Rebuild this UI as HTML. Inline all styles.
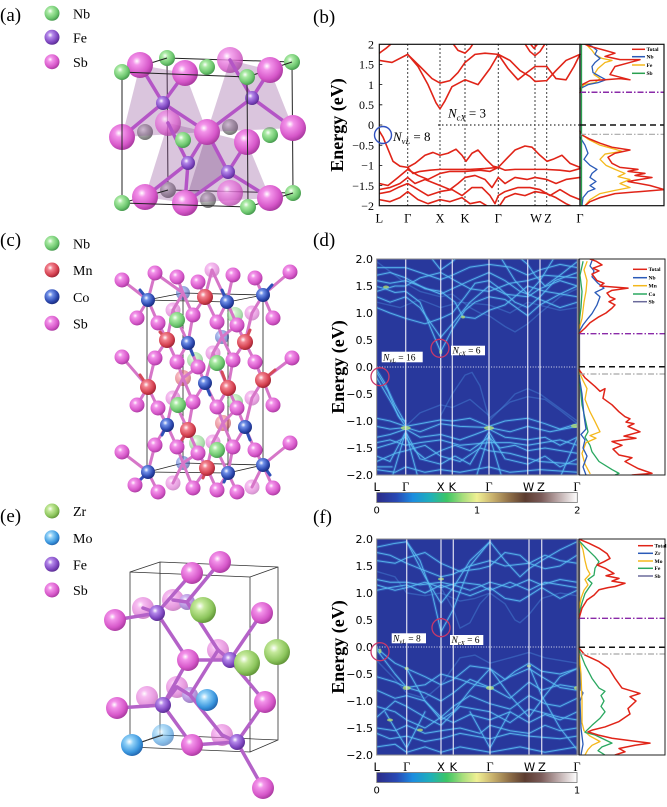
<!DOCTYPE html>
<html><head><meta charset="utf-8">
<style>
html,body{margin:0;padding:0;background:#fff;}
svg{display:block;}
.pl{fill:none;vector-effect:non-scaling-stroke;stroke-linejoin:round;stroke-linecap:round;}
.serif{font-family:"Liberation Serif",serif;}
.sans{font-family:"DejaVu Sans","Liberation Sans",sans-serif;}
</style></head>
<body>
<svg width="667" height="807" viewBox="0 0 667 807" xmlns="http://www.w3.org/2000/svg">
<defs>
<radialGradient id="gSb" cx="0.38" cy="0.35" r="0.7"><stop offset="0" stop-color="#fff"/><stop offset="0.22" stop-color="#f393ea"/><stop offset="0.7" stop-color="#d657c9"/><stop offset="1" stop-color="#a3369a"/></radialGradient>
<radialGradient id="gNb" cx="0.38" cy="0.35" r="0.7"><stop offset="0" stop-color="#fff"/><stop offset="0.25" stop-color="#aaeaa4"/><stop offset="0.7" stop-color="#6cc66e"/><stop offset="1" stop-color="#3f9048"/></radialGradient>
<radialGradient id="gFe" cx="0.38" cy="0.35" r="0.7"><stop offset="0" stop-color="#fff"/><stop offset="0.25" stop-color="#b488ea"/><stop offset="0.7" stop-color="#7e46c0"/><stop offset="1" stop-color="#542a8a"/></radialGradient>
<radialGradient id="gMn" cx="0.38" cy="0.35" r="0.7"><stop offset="0" stop-color="#fff"/><stop offset="0.25" stop-color="#f2818e"/><stop offset="0.7" stop-color="#d4404f"/><stop offset="1" stop-color="#931f2d"/></radialGradient>
<radialGradient id="gCo" cx="0.38" cy="0.35" r="0.7"><stop offset="0" stop-color="#fff"/><stop offset="0.25" stop-color="#6f8fe8"/><stop offset="0.7" stop-color="#2b47ae"/><stop offset="1" stop-color="#172874"/></radialGradient>
<radialGradient id="gZr" cx="0.38" cy="0.35" r="0.7"><stop offset="0" stop-color="#fff"/><stop offset="0.25" stop-color="#c4e99a"/><stop offset="0.7" stop-color="#8cc55c"/><stop offset="1" stop-color="#5a8e32"/></radialGradient>
<radialGradient id="gMo" cx="0.38" cy="0.35" r="0.7"><stop offset="0" stop-color="#fff"/><stop offset="0.25" stop-color="#92d2f8"/><stop offset="0.7" stop-color="#3a96de"/><stop offset="1" stop-color="#1f5ea6"/></radialGradient>
<radialGradient id="gGr" cx="0.38" cy="0.35" r="0.7"><stop offset="0" stop-color="#eee"/><stop offset="0.4" stop-color="#b4b4b4"/><stop offset="1" stop-color="#6e6e6e"/></radialGradient>
<linearGradient id="cbar" x1="0" x2="1" y1="0" y2="0">
<stop offset="0" stop-color="#2c2b88"/><stop offset="0.1" stop-color="#2848b4"/><stop offset="0.18" stop-color="#1b8de0"/><stop offset="0.27" stop-color="#1fb0b8"/><stop offset="0.35" stop-color="#3cc664"/><stop offset="0.43" stop-color="#a8de7c"/><stop offset="0.5" stop-color="#f0f094"/><stop offset="0.58" stop-color="#c8b06c"/><stop offset="0.66" stop-color="#907048"/><stop offset="0.74" stop-color="#5c3c30"/><stop offset="0.82" stop-color="#7a5a58"/><stop offset="0.9" stop-color="#b8a4a4"/><stop offset="1" stop-color="#ffffff"/>
</linearGradient>
<clipPath id="clipB"><rect x="379.3" y="44.3" width="284.7" height="161.4"/></clipPath>
<clipPath id="clipD"><rect x="376.7" y="259" width="200.6" height="216"/></clipPath>
<clipPath id="clipDd"><rect x="578" y="259" width="87" height="216"/></clipPath>
<clipPath id="clipF"><rect x="376.7" y="539" width="200.3" height="216"/></clipPath>
<clipPath id="clipFd"><rect x="578" y="539" width="87" height="216"/></clipPath>

<g id="bandsD">
<polyline class="pl" points="376.7,1.84 405.7,1.84 420,1.75 440.7,1.62 452.3,1.7 470,1.85 489,1.9 510,1.85 527.7,1.7 540,1.8 560,1.9 577.3,1.84"/>
<polyline class="pl" points="376.7,1.49 385,1.45 395,1.38 405.7,1.4 420,1.2 430,0.75 440.7,0.28 452.3,0.7 465,1.05 475,1.2 489,1.3 505,1.25 520,1.05 527.7,0.95 540,1.15 560,1.35 577.3,1.5"/>
<polyline class="pl" points="376.7,1.3 390,1.2 405.7,1.3 420,1.1 440.7,0.55 452.3,0.8 470,1.2 489,1.5 505,1.35 527.7,1.3 540,1.45 560,1.6 577.3,1.5"/>
<polyline class="pl" points="376.7,1.6 390,1.55 405.7,1.6 420,1.5 440.7,1.35 452.3,1.45 470,1.6 489,1.75 505,1.6 520,1.4 527.7,1.35 540,1.25 560,1.1 577.3,1.2"/>
<polyline class="pl" points="376.7,1.1 390,1.0 405.7,0.9 425,0.8 440.7,0.9 452.3,1.0 465,1.3 475,1.55 489,1.6 500,1.45 515,1.2 527.7,1.1 540,1.3 555,1.6 577.3,1.75"/>
<polyline class="pl" points="376.7,1.7 390,1.75 405.7,1.65 425,1.45 440.7,1.4 455,1.2 463,0.93 475,0.9 489,1.05 505,1.15 527.7,1.5 545,1.4 577.3,1.3"/>
<polyline class="pl" points="376.7,1.4 395,1.5 405.7,1.5 420,1.65 440.7,1.75 455,1.6 470,1.45 489,1.4 510,1.55 527.7,1.6 545,1.7 577.3,1.65"/>
<polyline class="pl" points="430,2.05 440.7,1.8 452.3,1.95 458,2.05"/>
<polyline class="pl" points="500,2.05 515,1.6 527.7,1.35 540,1.6 555,2.05"/>
<polyline class="pl" points="518,2.05 527.7,1.9 535,1.7 545,1.5 560,1.7 577.3,1.95"/>
<polyline class="pl" points="376.7,-0.05 385,-0.3 395,-0.7 405.7,-1.05"/>
<polyline class="pl" points="376.7,-0.1 388,-0.45 398,-0.9 405.7,-1.1"/>
<polyline class="pl" points="376.7,-0.2 390,-0.62 400,-0.95 405.7,-1.0"/>
<polyline class="pl" points="376.7,-0.95 390,-1.0 405.7,-1.1 420,-1.05 440.7,-0.98 452.3,-1.0 470,-0.95 489,-1.1 505,-1.0 527.7,-0.95 545,-1.05 560,-1.15 577.3,-1.05"/>
<polyline class="pl" points="376.7,-1.1 390,-1.15 405.7,-1.12 420,-1.2 440.7,-1.05 460,-1.1 489,-1.12 510,-1.2 527.7,-1.1 550,-1.2 577.3,-1.1"/>
<polyline class="pl" points="376.7,-1.3 390,-1.25 405.7,-1.15 420,-1.3 440.7,-1.25 460,-1.35 475,-1.25 489,-1.15 505,-1.3 527.7,-1.35 545,-1.3 560,-1.45 577.3,-1.3"/>
<polyline class="pl" points="376.7,-1.4 390,-1.35 405.7,-1.45 420,-1.4 440.7,-1.35 460,-1.45 489,-1.4 510,-1.4 527.7,-1.45 560,-1.35 577.3,-1.45"/>
<polyline class="pl" points="376.7,-1.5 395,-1.4 405.7,-1.3 415,-1.55 425,-1.7 440.7,-1.55 455,-1.45 470,-1.55 489,-1.3 500,-1.5 515,-1.45 527.7,-1.55 545,-1.5 577.3,-1.6"/>
<polyline class="pl" points="376.7,-1.75 395,-1.6 405.7,-1.55 425,-1.45 440.7,-1.65 460,-1.75 480,-1.5 489,-1.55 510,-1.6 540,-1.75 577.3,-1.8"/>
<polyline class="pl" points="376.7,-1.65 390,-1.75 405.7,-1.2 420,-1.7 440.7,-1.8 455,-1.65 470,-1.8 489,-1.2 505,-1.7 527.7,-1.8 545,-1.65 560,-1.85 577.3,-1.7"/>
<polyline class="pl" points="376.7,-1.9 395,-1.95 405.7,-1.85 425,-1.95 440.7,-1.9 460,-1.95 489,-1.85 510,-1.95 540,-1.9 577.3,-1.95"/>
<polyline class="pl" points="376.7,-1.85 392,-1.85"/>
<polyline class="pl" points="392,-2.05 405.7,-1.2 418,-2.05"/>
<polyline class="pl" points="476,-2.05 489,-1.25 502,-2.05"/>
<polyline class="pl" points="560,-2.05 577.3,-1.3"/>
</g>
<g id="bandsDf">
<polyline class="pl" points="440.7,-0.9 452.3,-0.5 465,-0.15 472,-0.1 480,-0.35 489,-0.95"/>
<polyline class="pl" points="489,-1.0 505,-0.7 515,-0.5 527.7,-0.4 540,-0.5 555,-0.7 577.3,-1.0"/>
<polyline class="pl" points="489,-0.95 510,-0.65 527.7,-0.55 545,-0.6 560,-0.8 577.3,-1.05"/>
<polyline class="pl" points="376.7,1.95 395,1.7 405.7,1.55 420,1.4 440.7,1.3 452.3,1.35 470,1.1 480,1.0 489,0.95 505,0.75 515,0.65 527.7,0.8 540,1.0 560,1.3 577.3,1.45"/>
<polyline class="pl" points="405.7,-1.1 420,-0.85 440.7,-0.7 452.3,-0.75 470,-0.6 489,-0.9"/>
<polyline class="pl" points="376.7,1.2 400,1.1 420,1.25 440.7,1.1 460,1.2 489,1.15 510,1.0 527.7,1.2 560,1.05 577.3,1.1"/>
</g>

<g id="bandsF">
<polyline class="pl" points="376.7,1.85 395,1.92 406.7,1.95 420,1.6 432,1.0 441,0.28 453.3,0.7 470,1.5 490,1.95 505,1.6 520,1.3 529,1.45 541.7,1.6 560,1.8 577,1.95"/>
<polyline class="pl" points="406.7,1.95 425,1.3 441,0.81 453.3,1.1 470,1.6 490,1.95"/>
<polyline class="pl" points="376.7,1.75 390,1.7 406.7,1.55 420,1.45 441,1.3 453.3,1.35 470,1.5 490,1.6 505,1.5 529,1.55 545,1.45 560,1.5 577,1.7"/>
<polyline class="pl" points="376.7,1.25 390,1.2 406.7,1.2 420,1.15 441,1.2 453.3,1.15 470,1.05 490,1.2 510,1.1 529,1.25 541.7,1.15 560,1.25 577,1.2"/>
<polyline class="pl" points="376.7,1.05 390,1.1 406.7,1.15 425,1.0 441,1.15 453.3,1.05 470,0.95 490,1.1 505,0.9 520,0.85 529,0.95 541.7,1.1 560,0.9 577,1.05"/>
<polyline class="pl" points="376.7,1.15 395,1.05 406.7,1.1 425,1.2 441,1.1 460,1.2 480,1.15 490,1.05 510,1.2 529,1.05 545,1.2 577,1.1"/>
<polyline class="pl" points="376.7,1.6 395,1.55 406.7,1.65 425,1.75 441,1.55 460,1.4 480,1.45 490,1.5 505,1.75 520,1.7 529,1.55 545,1.7 560,1.6 577,1.55"/>
<polyline class="pl" points="376.7,-0.02 385,-0.15 395,-0.3 406.7,-0.4 425,-0.55 441,-0.7 453.3,-0.6 470,-0.35 490,-0.4 505,-0.6 515,-0.45 529,-0.3 541.7,-0.45 560,-0.5 577,-0.4"/>
<polyline class="pl" points="376.7,-0.05 395,-0.5 406.7,-0.75 425,-0.85 441,-1.0 453.3,-0.85 470,-0.6 490,-0.75 510,-0.95 529,-0.65 541.7,-0.8 560,-0.7 577,-0.75"/>
<polyline class="pl" points="376.7,-0.55 395,-0.65 406.7,-0.75 425,-0.7 441,-0.5 460,-0.6 475,-0.7 490,-0.76 510,-0.55 529,-0.4 541.7,-0.55 560,-0.75 577,-0.8"/>
<polyline class="pl" points="376.7,-0.8 395,-0.95 406.7,-0.9 425,-1.0 441,-1.3 453.3,-1.1 470,-0.9 490,-1.05 510,-1.15 529,-0.9 545,-1.05 560,-1.1 577,-0.95"/>
<polyline class="pl" points="376.7,-1.1 395,-1.2 406.7,-1.35 425,-1.5 441,-1.3 453.3,-1.4 470,-1.25 490,-1.35 510,-1.2 529,-1.4 545,-1.25 560,-1.35 577,-1.2"/>
<polyline class="pl" points="376.7,-1.5 395,-1.55 406.7,-1.45 425,-1.6 441,-1.55 460,-1.5 480,-1.6 490,-1.45 510,-1.55 529,-1.6 545,-1.45 560,-1.55 577,-1.5"/>
<polyline class="pl" points="376.7,-1.6 390,-1.7 406.7,-1.65 425,-1.75 441,-1.7 460,-1.6 490,-1.7 510,-1.6 529,-1.65 560,-1.7 577,-1.65"/>
<polyline class="pl" points="385,-1.2 406.7,-1.87 425,-1.2"/>
<polyline class="pl" points="470,-1.2 490,-1.87 510,-1.2"/>
<polyline class="pl" points="376.7,-1.85 395,-1.8 406.7,-1.95 425,-1.85 441,-1.95 460,-1.85 490,-1.95 520,-1.85 545,-1.95 577,-1.85"/>
<polyline class="pl" points="406.7,-0.4 425,-1.0 441,-1.35 453.3,-1.2 470,-0.8 490,-0.4 510,-0.9 529,-1.3 545,-0.9 560,-0.55 577,-0.4"/>
<polyline class="pl" points="529,-0.35 541.7,-0.9 560,-1.5 577,-1.9"/>
<polyline class="pl" points="376.7,-1.3 395,-1.0 406.7,-1.1 425,-1.3 441,-1.45 460,-1.1 490,-1.2 510,-1.4 529,-1.15 560,-1.3 577,-1.35"/>
</g>
<g id="bandsFf">
<polyline class="pl" points="441,1.1 453.3,0.7 460,0.35 470,0.45 480,0.8 490,1.0"/>
<polyline class="pl" points="376.7,1.4 395,1.3 406.7,1.0 425,0.95 441,1.0 460,0.85 475,0.9 490,1.0 505,0.8 515,0.5 520,0.45 529,0.6 541.7,0.9 560,1.0 577,0.95"/>
<polyline class="pl" points="376.7,-0.25 395,-0.6 406.7,-0.85 425,-0.95 441,-0.7 460,-0.2 475,-0.15 490,-0.3 510,-0.2 529,-0.1 545,-0.2 577,-0.3"/>
</g>
</defs>

<!-- ================= Panel (a) ================= -->
<text class="serif" x="0" y="21" font-size="19">(a)</text>
<circle cx="52" cy="13.3" r="7.5" fill="url(#gNb)"/>
<circle cx="52" cy="37.3" r="7.5" fill="url(#gFe)"/>
<circle cx="52" cy="61.7" r="7.5" fill="url(#gSb)"/>
<text class="serif" x="73" y="18.5" font-size="14">Nb</text>
<text class="serif" x="73" y="42.5" font-size="14">Fe</text>
<text class="serif" x="73" y="67" font-size="14">Sb</text>

<g stroke="#222" stroke-width="1" fill="none">
<polygon points="167,58 292,62 293,193 168,190"/>
</g>
<g fill="url(#gGr)">
<circle cx="145" cy="132" r="8"/><circle cx="230" cy="127" r="8"/><circle cx="168" cy="190" r="8"/><circle cx="208" cy="200" r="8"/>
</g>
<circle cx="167" cy="58" r="8" fill="url(#gNb)"/>
<circle cx="207" cy="67" r="8" fill="url(#gNb)"/>
<circle cx="292" cy="62" r="8" fill="url(#gNb)"/>
<circle cx="293" cy="193" r="8" fill="url(#gNb)"/>
<circle cx="270" cy="135" r="8" fill="url(#gNb)"/>
<circle cx="230" cy="60" r="13" fill="url(#gSb)" opacity="0.8"/>
<g fill="#8e4e98" fill-opacity="0.33">
<polygon points="140,65 185,73 207,132 122,137"/>
<polygon points="230,60 270,70 293,128 207,132"/>
<polygon points="168,123 207,132 185,203 145,197"/>
<polygon points="207,132 247,142 270,198 185,203"/>
</g>
<polygon points="207,132 228,172 185,203" fill="#6e3a7a" fill-opacity="0.3"/>
<circle cx="168" cy="123" r="13" fill="url(#gSb)" opacity="0.75"/>
<circle cx="230" cy="193" r="13" fill="url(#gSb)" opacity="0.75"/>
<g stroke="#b455c6" stroke-width="3.5" stroke-linecap="round">
<path d="M163,103 L140,65 M163,103 L185,73 M163,103 L122,137 M163,103 L207,132"/>
<path d="M252,98 L230,60 M252,98 L270,70 M252,98 L207,132 M252,98 L293,128"/>
<path d="M188,163 L207,132 M188,163 L168,123 M188,163 L145,197 M188,163 L185,203"/>
<path d="M228,172 L207,132 M228,172 L247,142 M228,172 L270,198 M228,172 L185,203"/>
</g>
<g stroke="#222" stroke-width="1" fill="none">
<path d="M122,72 L167,58 M247,77 L292,62 M248,207 L293,193 M122,203 L168,190"/>
</g>
<g fill="url(#gFe)">
<circle cx="163" cy="103" r="7"/><circle cx="252" cy="98" r="7"/><circle cx="188" cy="163" r="7"/><circle cx="228" cy="172" r="7"/>
</g>
<circle cx="183" cy="140" r="8" fill="url(#gNb)"/>
<g fill="url(#gSb)">
<circle cx="140" cy="65" r="13"/><circle cx="185" cy="73" r="13"/><circle cx="270" cy="70" r="13"/>
<circle cx="122" cy="137" r="13"/><circle cx="207" cy="132" r="13"/><circle cx="293" cy="128" r="13"/><circle cx="247" cy="142" r="13"/>
<circle cx="145" cy="197" r="13"/><circle cx="185" cy="203" r="13"/><circle cx="270" cy="198" r="13"/>
</g>
<g stroke="#222" stroke-width="1" fill="none">
<polygon points="122,72 247,77 248,207 122,203"/>
</g>
<circle cx="122" cy="72" r="8" fill="url(#gNb)"/>
<circle cx="247" cy="77" r="8" fill="url(#gNb)"/>
<circle cx="122" cy="203" r="8" fill="url(#gNb)"/>
<circle cx="248" cy="207" r="8" fill="url(#gNb)"/>

<!-- ================= Panel (b) ================= -->
<text class="serif" x="313" y="23" font-size="19">(b)</text>
<text class="serif" font-size="18" font-weight="bold" text-anchor="middle" transform="translate(343,125) rotate(-90)">Energy (eV)</text>
<g class="serif" font-size="12" text-anchor="end">
<text x="374" y="48.5">2</text><text x="374" y="68.5">1.5</text><text x="374" y="88.8">1</text><text x="374" y="109">0.5</text>
<text x="374" y="129.2">0</text><text x="374" y="149.4">−0.5</text><text x="374" y="169.6">−1</text><text x="374" y="189.8">−1.5</text><text x="374" y="210">−2</text>
</g>
<g class="serif" font-size="12.5" text-anchor="middle">
<text x="379.3" y="222.5">L</text><text x="407.7" y="222.5">Γ</text><text x="440" y="222.5">X</text><text x="465" y="222.5">K</text>
<text x="498.3" y="222.5">Γ</text><text x="536" y="222.5">W</text><text x="548" y="222.5">Z</text><text x="580" y="222.5">Γ</text>
</g>
<g stroke="#000" stroke-width="1" stroke-dasharray="1.5,2.5">
<path d="M407.7,44.3 V205.7 M440,44.3 V205.7 M465,44.3 V205.7 M498.3,44.3 V205.7 M535,44.3 V205.7 M546.7,44.3 V205.7 M438,125 H580"/>
</g>
<g clip-path="url(#clipB)">
<g transform="translate(0,125) scale(1,-40.35)" stroke="#e02418" stroke-width="1.6">
<polyline class="pl" points="379.3,1.6 392,1.55 407.7,1.75 418,1.45 428,1.0 436,0.55 440,0.4 445,0.6 452,0.95 465,1.12 478,1.0 490,1.4 498.3,1.75 508,1.4 518,1.12 527,1.3 535,1.45 546.7,1.45 556,1.15 566,1.12 574,1.45 580,1.75"/>
<polyline class="pl" points="379.3,1.78 386,1.9 393,2.05"/>
<polyline class="pl" points="407.7,1.75 420,1.45 432,1.15 440,1.04 450,1.1 458,1.3 465,1.55 475,1.75 485,1.78 498.3,1.75 510,1.6 520,1.35 530,1.2 535,1.08 546.7,1.1 556,1.35 566,1.6 580,1.75"/>
<polyline class="pl" points="452,2.05 458,1.85 465,1.78 470,1.9 474,2.05"/>
<polyline class="pl" points="524,2.05 530,1.82 535,1.72 540,1.82 546,2.05"/>
<polyline class="pl" points="529,2.05 534,1.9 539,2.05"/>
<polyline class="pl" points="379.3,-0.15 383,-0.3 388,-0.6 393,-0.9 400,-1.02 407.7,-1.05 415,-0.95 425,-0.75 433,-0.68 440,-0.75 448,-0.7 456,-0.6 462,-0.75 466,-0.9 472,-0.7 478,-0.62 486,-0.85 493,-1.02 498.3,-1.05 506,-0.85 515,-0.62 525,-0.52 532,-0.55 540,-0.75 547,-0.9 553,-0.85 562,-0.75 570,-0.95 580,-1.05"/>
<polyline class="pl" points="407.7,-1.05 413,-1.2 420,-1.15 430,-1.12 440,-1.1 455,-1.1 470,-1.1 485,-1.08 498.3,-1.05 505,-1.12 515,-1.1 530,-1.1 545,-1.1 560,-1.12 570,-1.15 580,-1.08"/>
<polyline class="pl" points="379.3,-1.45 388,-1.5 398,-1.3 407.7,-1.1 418,-1.25 428,-1.35 440,-1.2 450,-1.15 465,-1.15 480,-1.12 490,-1.15 498.3,-1.05"/>
<polyline class="pl" points="379.3,-1.6 390,-1.55 400,-1.45 407.7,-1.3 415,-1.45 425,-1.35 440,-1.5 450,-1.6 458,-1.45 465,-1.3 475,-1.25 485,-1.35 492,-1.55 498.3,-1.3 505,-1.45 515,-1.3 527,-1.35 535,-1.3 546.7,-1.35 556,-1.45 566,-1.35 580,-1.3"/>
<polyline class="pl" points="379.3,-1.7 390,-1.65 398,-1.55 407.7,-1.45 418,-1.6 428,-1.75 440,-1.65 452,-1.6 462,-1.75 472,-1.55 482,-1.55 490,-1.75 495,-1.95 498.3,-1.75 505,-1.65 518,-1.55 530,-1.55 540,-1.6 550,-1.75 560,-1.6 570,-1.75 580,-1.85"/>
<polyline class="pl" points="379.3,-1.85 390,-1.9 400,-1.8 407.7,-1.65 418,-1.85 428,-1.95 440,-1.85 450,-1.9 462,-1.8 470,-1.95 480,-1.9 490,-2.05"/>
<polyline class="pl" points="498.3,-2.05 505,-1.8 515,-1.7 525,-1.75 535,-1.65 546.7,-1.7 556,-1.8 566,-1.95 575,-2.05"/>
</g>
<g transform="translate(0,125) scale(1,-40.35)" stroke-width="1.3">
<polyline class="pl" stroke="#f4b81c" points="580,0.85 584,1.0 595,1.05 600,1.15 594,1.25 598,1.4 605,1.55 612,1.6 602,1.65 595,1.75 592,1.85 586,2.0"/>
<polyline class="pl" stroke="#f4b81c" points="580,-0.2 588,-0.35 600,-0.5 615,-0.6 622,-0.65 605,-0.72 600,-0.85 606,-1.0 615,-1.1 625,-1.2 618,-1.28 630,-1.35 620,-1.45 630,-1.55 615,-1.62 600,-1.7 590,-1.85 585,-2.0"/>
<polyline class="pl" stroke="#2a5ab8" points="580,0.9 588,1.0 598,1.05 606,1.12 600,1.2 593,1.3 592,1.45 595,1.55 600,1.65 595,1.75 597,1.85 592,1.95 588,2.0"/>
<polyline class="pl" stroke="#2a5ab8" points="580,-0.3 585,-0.5 588,-0.7 584,-0.85 590,-1.0 597,-1.1 592,-1.2 590,-1.3 596,-1.4 590,-1.5 595,-1.58 588,-1.65 583,-1.8 582,-2.0"/>
<polyline class="pl" stroke="#e02418" stroke-width="1.5" points="580,0.8 582,1.0 590,1.1 605,1.12 620,1.15 630,1.12 610,1.25 615,1.45 630,1.55 640,1.62 620,1.62 605,1.7 615,1.78 605,1.85 590,1.95 585,2.0"/>
<polyline class="pl" stroke="#e02418" stroke-width="1.5" points="580,-0.15 582,-0.25 590,-0.35 600,-0.45 612,-0.55 625,-0.6 630,-0.62 615,-0.7 608,-0.8 612,-0.95 620,-1.05 638,-1.1 628,-1.15 645,-1.2 635,-1.25 652,-1.3 640,-1.35 628,-1.4 650,-1.5 664,-1.6 640,-1.65 615,-1.7 600,-1.8 590,-1.9 585,-2.0"/>
<polyline class="pl" stroke="#2aa050" points="581.5,-2.05 581.5,2.05"/>
</g>
</g>
<path d="M580,92.3 H664" stroke="#8a2aa8" stroke-width="1.5" stroke-dasharray="6,2,1.5,2"/>
<path d="M580,125 H664" stroke="#111" stroke-width="1.5" stroke-dasharray="6,4"/>
<path d="M580,134.3 H664" stroke="#a8a8a8" stroke-width="1.2" stroke-dasharray="6,2,1.5,2"/>
<g stroke="#000" stroke-width="0.8">
<path d="M379.3,64.5 h3 M379.3,84.6 h3 M379.3,104.8 h3 M379.3,125 h3 M379.3,145.2 h3 M379.3,165.4 h3 M379.3,185.5 h3"/>
</g>
<rect x="379.3" y="44.3" width="200.7" height="161.4" fill="none" stroke="#111" stroke-width="1.2"/>
<rect x="580" y="44.3" width="84" height="161.4" fill="none" stroke="#111" stroke-width="1.2"/>
<circle cx="383" cy="135" r="8.5" fill="none" stroke="#3050c0" stroke-width="1.4"/>
<text class="serif" x="393" y="141" font-size="13"><tspan font-style="italic">N</tspan><tspan font-style="italic" font-size="8.5" dy="3">vL</tspan><tspan dy="-3"> = 8</tspan></text>
<text class="serif" x="448" y="117.5" font-size="13"><tspan font-style="italic">N</tspan><tspan font-style="italic" font-size="8.5" dy="3">cX</tspan><tspan dy="-3"> = 3</tspan></text>
<g class="serif" font-size="5.5" font-weight="bold">
<path d="M632,49.3 h13" stroke="#e02418" stroke-width="1.5"/><text x="646.5" y="51.2">Total</text>
<path d="M632,56.7 h13" stroke="#2a5ab8" stroke-width="1.5"/><text x="646.5" y="58.6">Nb</text>
<path d="M632,65 h13" stroke="#f4b81c" stroke-width="1.5"/><text x="646.5" y="66.9">Fe</text>
<path d="M632,73.3 h13" stroke="#2aa050" stroke-width="1.5"/><text x="646.5" y="75.2">Sb</text>
</g>

<!-- ================= Panel (c) ================= -->
<text class="serif" x="0" y="246" font-size="19">(c)</text>
<circle cx="52" cy="243.3" r="7.5" fill="url(#gNb)"/>
<circle cx="52" cy="270" r="7.5" fill="url(#gMn)"/>
<circle cx="52" cy="296.7" r="7.5" fill="url(#gCo)"/>
<circle cx="52" cy="323.3" r="7.5" fill="url(#gSb)"/>
<text class="serif" x="73" y="248.5" font-size="14">Nb</text>
<text class="serif" x="73" y="275.2" font-size="14">Mn</text>
<text class="serif" x="73" y="301.9" font-size="14">Co</text>
<text class="serif" x="73" y="328.5" font-size="14">Sb</text>

<g stroke="#222" stroke-width="0.8" fill="none">
<path d="M147,300 L183,293 L263,295 L228,302 Z M148,472 L183,463 L263,465 L228,473 Z M147,300 V472 M228,302 V473 M183,293 V463 M263,295 V465"/>
</g>
<g opacity="0.55">
<circle cx="173" cy="310" r="7.5" fill="url(#gSb)"/><circle cx="173" cy="398" r="7.5" fill="url(#gSb)"/><circle cx="173" cy="483" r="7.5" fill="url(#gSb)"/>
<circle cx="252" cy="313" r="7.5" fill="url(#gSb)"/><circle cx="252" cy="398" r="7.5" fill="url(#gSb)"/><circle cx="252" cy="487" r="7.5" fill="url(#gSb)"/>
<circle cx="212" cy="270" r="7.5" fill="url(#gSb)"/><circle cx="213" cy="353" r="7.5" fill="url(#gSb)"/><circle cx="213" cy="442" r="7.5" fill="url(#gSb)"/>
<circle cx="235" cy="315" r="8" fill="url(#gNb)"/><circle cx="195" cy="360" r="8" fill="url(#gNb)"/><circle cx="235" cy="402" r="8" fill="url(#gNb)"/><circle cx="197" cy="443" r="8" fill="url(#gNb)"/>
<circle cx="183" cy="293" r="7" fill="url(#gCo)"/><circle cx="222" cy="337" r="7" fill="url(#gCo)"/><circle cx="183" cy="378" r="8" fill="url(#gMn)"/><circle cx="223" cy="423" r="8" fill="url(#gMn)"/><circle cx="183" cy="463" r="7" fill="url(#gCo)"/>
</g>
<g stroke="#d676c8" stroke-width="3" stroke-linecap="round" fill="none">
<path d="M148,300 L122,280 M148,300 L155,273 M148,300 L137,318 M148,300 L158,323"/>
<path d="M205,297 L198,282 M205,297 L212,270 M205,297 L193,315 M205,297 L217,322"/>
<path d="M227,302 L212,270 M227,302 L233,275 M227,302 L217,322 M227,302 L237,325"/>
<path d="M263,295 L255,278 M263,295 L290,272 M263,295 L252,313 M263,295 L273,318"/>
<path d="M183,293 L177,277 M183,293 L155,273 M183,293 L173,310 M183,293 L193,315"/>
<path d="M167,340 L158,323 M167,340 L173,310 M167,340 L155,358 M167,340 L177,362"/>
<path d="M188,343 L193,315 M188,343 L173,310 M188,343 L177,362 M188,343 L198,367"/>
<path d="M222,337 L217,322 M222,337 L237,325 M222,337 L213,353 M222,337 L233,360"/>
<path d="M245,342 L237,325 M245,342 L252,313 M245,342 L233,360 M245,342 L255,362"/>
<path d="M148,387 L122,357 M148,387 L155,358 M148,387 L137,405 M148,387 L158,408"/>
<path d="M183,378 L177,362 M183,378 L198,367 M183,378 L173,398 M183,378 L193,402"/>
<path d="M205,383 L198,367 M205,383 L213,353 M205,383 L193,402 M205,383 L217,407"/>
<path d="M228,388 L213,353 M228,388 L233,360 M228,388 L217,407 M228,388 L237,408"/>
<path d="M263,380 L255,362 M263,380 L292,358 M263,380 L252,398 M263,380 L273,405"/>
<path d="M167,425 L158,408 M167,425 L173,398 M167,425 L155,445 M167,425 L177,447"/>
<path d="M188,430 L193,402 M188,430 L173,398 M188,430 L177,447 M188,430 L198,453"/>
<path d="M223,423 L217,407 M223,423 L237,408 M223,423 L213,442 M223,423 L233,447"/>
<path d="M245,427 L237,408 M245,427 L252,398 M245,427 L233,447 M245,427 L255,450"/>
<path d="M148,472 L122,452 M148,472 L155,445 M148,472 L135,485 M148,472 L158,492"/>
<path d="M183,463 L177,447 M183,463 L198,453 M183,463 L173,483 M183,463 L193,488"/>
<path d="M207,468 L198,453 M207,468 L213,442 M207,468 L193,488 M207,468 L217,490"/>
<path d="M228,473 L213,442 M228,473 L233,447 M228,473 L217,490 M228,473 L237,492"/>
<path d="M263,465 L255,450 M263,465 L290,443 M263,465 L252,487 M263,465 L273,488"/>
</g>
<g stroke="#d44a5a" stroke-width="3" stroke-linecap="round">
<path d="M167,340 L160,332 M245,342 L250,330 M148,387 L140,375 M228,388 L222,372 M263,380 L275,370 M188,430 L182,440 M207,468 L203,478"/>
</g>
<g stroke="#3050b8" stroke-width="3" stroke-linecap="round">
<path d="M148,300 L140,290 M227,302 L222,290 M263,295 L272,285 M188,343 L193,355 M205,383 L210,395 M167,425 L162,435 M245,427 L250,440 M148,472 L140,480 M228,473 L224,482 M263,465 L270,475"/>
</g>
<g fill="url(#gSb)">
<circle cx="122" cy="280" r="7.5"/><circle cx="155" cy="273" r="7.5"/><circle cx="177" cy="277" r="7.5"/><circle cx="198" cy="282" r="7.5"/><circle cx="233" cy="275" r="7.5"/><circle cx="255" cy="278" r="7.5"/><circle cx="290" cy="272" r="7.5"/>
<circle cx="137" cy="318" r="7.5"/><circle cx="158" cy="323" r="7.5"/><circle cx="193" cy="315" r="7.5"/><circle cx="217" cy="322" r="7.5"/><circle cx="237" cy="325" r="7.5"/><circle cx="273" cy="318" r="7.5"/>
<circle cx="122" cy="357" r="7.5"/><circle cx="155" cy="358" r="7.5"/><circle cx="177" cy="362" r="7.5"/><circle cx="198" cy="367" r="7.5"/><circle cx="233" cy="360" r="7.5"/><circle cx="255" cy="362" r="7.5"/><circle cx="292" cy="358" r="7.5"/>
<circle cx="137" cy="405" r="7.5"/><circle cx="158" cy="408" r="7.5"/><circle cx="193" cy="402" r="7.5"/><circle cx="217" cy="407" r="7.5"/><circle cx="237" cy="408" r="7.5"/><circle cx="273" cy="405" r="7.5"/>
<circle cx="122" cy="452" r="7.5"/><circle cx="155" cy="445" r="7.5"/><circle cx="177" cy="447" r="7.5"/><circle cx="198" cy="453" r="7.5"/><circle cx="233" cy="447" r="7.5"/><circle cx="255" cy="450" r="7.5"/><circle cx="290" cy="443" r="7.5"/>
<circle cx="135" cy="485" r="7.5"/><circle cx="158" cy="492" r="7.5"/><circle cx="193" cy="488" r="7.5"/><circle cx="217" cy="490" r="7.5"/><circle cx="237" cy="492" r="7.5"/><circle cx="273" cy="488" r="7.5"/>
</g>
<g fill="url(#gNb)">
<circle cx="177" cy="320" r="8"/><circle cx="217" cy="363" r="8"/><circle cx="178" cy="405" r="8"/><circle cx="217" cy="450" r="8"/>
</g>
<g fill="url(#gCo)">
<circle cx="148" cy="300" r="7"/><circle cx="227" cy="302" r="7"/><circle cx="263" cy="295" r="7"/><circle cx="188" cy="343" r="7"/><circle cx="205" cy="383" r="7"/><circle cx="167" cy="425" r="7"/><circle cx="245" cy="427" r="7"/><circle cx="148" cy="472" r="7"/><circle cx="228" cy="473" r="7"/><circle cx="263" cy="465" r="7"/>
</g>
<g fill="url(#gMn)">
<circle cx="205" cy="297" r="8"/><circle cx="167" cy="340" r="8"/><circle cx="245" cy="342" r="8"/><circle cx="148" cy="387" r="8"/><circle cx="228" cy="388" r="8"/><circle cx="263" cy="380" r="8"/><circle cx="188" cy="430" r="8"/><circle cx="207" cy="468" r="8"/>
</g>

<!-- ================= Panel (d) ================= -->
<text class="serif" x="313" y="246" font-size="19">(d)</text>
<text class="serif" font-size="18" font-weight="bold" text-anchor="middle" transform="translate(344,367) rotate(-90)">Energy (eV)</text>
<g class="sans" font-size="11" text-anchor="end">
<text x="373" y="263">2.0</text><text x="373" y="290">1.5</text><text x="373" y="317">1.0</text><text x="373" y="344">0.5</text>
<text x="373" y="371">0.0</text><text x="373" y="398">−0.5</text><text x="373" y="425">−1.0</text><text x="373" y="452">−1.5</text><text x="373" y="479">−2.0</text>
</g>
<g clip-path="url(#clipD)">
<rect x="376.7" y="259" width="200.6" height="216" fill="#28389c"/>
<g transform="translate(0,367) scale(1,-54)">
<use href="#bandsDf" stroke="#4a90e0" stroke-width="1.4" stroke-opacity="0.4"/>
<use href="#bandsD" stroke="#3a7ad4" stroke-width="3" stroke-opacity="0.4"/>
<use href="#bandsD" stroke="#5cc0f0" stroke-width="1" stroke-opacity="0.85"/>
</g>
<g fill="#b8e470" opacity="0.75">
<ellipse cx="405.7" cy="428" rx="5" ry="2"/><ellipse cx="489" cy="428" rx="5" ry="2"/><ellipse cx="575" cy="426" rx="4" ry="2"/>
<ellipse cx="463" cy="317" rx="2" ry="1.5"/><ellipse cx="386" cy="287" rx="3" ry="1.5"/><ellipse cx="440.7" cy="352" rx="1.5" ry="2.5"/>
</g>
<g stroke="#e4e6f4" stroke-width="1.3" stroke-opacity="0.9">
<path d="M405.7,259 V475 M440.7,259 V475 M452.3,259 V475 M489,259 V475 M527.7,259 V475 M540,259 V475"/>
</g>
<path d="M376.7,367 H577.3" stroke="#fff" stroke-width="1" stroke-dasharray="1,1.6" opacity="0.85"/>
</g>
<rect x="376.7" y="259" width="200.6" height="216" fill="none" stroke="#8a8a8a" stroke-width="1"/>
<rect x="577" y="259" width="2" height="216" fill="#8a8a96"/>
<g clip-path="url(#clipDd)">
<g transform="translate(0,367) scale(1,-54)" stroke-width="1.3">
<polyline class="pl" stroke="#6a6a9a" points="579.5,-2.05 579.5,2.05"/>
<polyline class="pl" stroke="#2aa860" points="579,0.8 581,1.1 582,1.4 580,1.7 583,1.95"/>
<polyline class="pl" stroke="#2aa860" points="579,-0.1 581,-0.5 582,-0.7 585,-0.95 588,-1.2 585,-1.3 590,-1.45 592,-1.57 599,-1.75 612,-1.9 619,-1.97 615,-2.0"/>
<polyline class="pl" stroke="#f4b81c" points="579,0.7 582,0.9 584,1.2 586,1.4 587,1.6 584,1.8 587,1.95"/>
<polyline class="pl" stroke="#f4b81c" points="579,-0.08 583,-0.25 587,-0.4 585,-0.6 590,-0.83 595,-1.01 600,-1.2 590,-1.27 596,-1.32 586,-1.4 582,-1.6 585,-1.8 590,-1.97"/>
<polyline class="pl" stroke="#2a5ab8" points="579,0.65 583,0.78 588,0.9 592,0.99 597,1.15 600,1.3 595,1.38 604,1.46 598,1.55 592,1.67 594,1.78 590,1.87 592,1.97"/>
<polyline class="pl" stroke="#2a5ab8" points="579,-0.15 582,-0.5 584,-0.9 586,-1.15 581,-1.25 585,-1.35 583,-1.5 587,-1.65 583,-1.85 586,-2.0"/>
<polyline class="pl" stroke="#e02418" stroke-width="1.5" points="579,0.62 585,0.72 590,0.82 598,0.92 606,1.0 612,1.09 615,1.15 609,1.21 615,1.26 610,1.3 607,1.37 612,1.42 628,1.46 600,1.5 604,1.55 597,1.6 592,1.72 599,1.78 593,1.83 602,1.89 596,1.96 590,2.0"/>
<polyline class="pl" stroke="#e02418" stroke-width="1.5" points="579,-0.05 585,-0.2 595,-0.36 600,-0.45 605,-0.4 603,-0.58 612,-0.7 619,-0.83 625,-0.92 630,-0.96 626,-1.02 634,-1.05 628,-1.1 640,-1.2 624,-1.28 636,-1.32 612,-1.38 622,-1.45 613,-1.52 619,-1.63 632,-1.68 625,-1.75 638,-1.88 652,-1.97 632,-2.0"/>
</g>
</g>
<path d="M579,333.7 H665" stroke="#8a2aa8" stroke-width="1.4" stroke-dasharray="6,2,1.5,2"/>
<path d="M579,366.7 H665" stroke="#111" stroke-width="1.5" stroke-dasharray="6,4"/>
<path d="M579,374 H665" stroke="#a8a8a8" stroke-width="1.2" stroke-dasharray="6,2,1.5,2"/>
<rect x="579" y="259" width="86" height="216" fill="none" stroke="#222" stroke-width="1"/>
<g class="serif" font-size="5.5" font-weight="bold">
<path d="M633,269.3 h14" stroke="#e02418" stroke-width="1.5"/><text x="648.5" y="271.2">Total</text>
<path d="M633,277.7 h14" stroke="#2a5ab8" stroke-width="1.5"/><text x="648.5" y="279.6">Nb</text>
<path d="M633,285.7 h14" stroke="#f4b81c" stroke-width="1.5"/><text x="648.5" y="287.6">Mn</text>
<path d="M633,294 h14" stroke="#2aa860" stroke-width="1.5"/><text x="648.5" y="295.9">Co</text>
<path d="M633,301.7 h14" stroke="#6a6a9a" stroke-width="1.5"/><text x="648.5" y="303.6">Sb</text>
</g>
<circle cx="440" cy="348.3" r="9" fill="none" stroke="#c8386a" stroke-width="1.3"/>
<circle cx="380" cy="376.7" r="9" fill="none" stroke="#c8386a" stroke-width="1.3"/>
<rect x="381.7" y="351.7" width="41" height="10.6" fill="#fff"/>
<text class="serif" x="383" y="360.3" font-size="9.5"><tspan font-style="italic">N</tspan><tspan font-style="italic" font-size="6.5" dy="2">vL</tspan><tspan dy="-2"> = 16</tspan></text>
<rect x="451" y="345.7" width="34" height="9.6" fill="#fff"/>
<text class="serif" x="452.5" y="353.6" font-size="9.5"><tspan font-style="italic">N</tspan><tspan font-style="italic" font-size="6.5" dy="2">cX</tspan><tspan dy="-2"> = 6</tspan></text>
<g class="sans" font-size="11.5" text-anchor="middle">
<text x="376.7" y="491">L</text><text x="405.7" y="491" class="serif" font-size="12.5">Γ</text><text x="440.7" y="491">X</text><text x="452.3" y="491">K</text>
<text x="489" y="491" class="serif" font-size="12.5">Γ</text><text x="528.5" y="491">W</text><text x="541" y="491">Z</text><text x="577" y="491" class="serif" font-size="12.5">Γ</text>
</g>
<rect x="376.7" y="492.5" width="200.6" height="10" fill="url(#cbar)" stroke="#777" stroke-width="0.8"/>
<g class="sans" font-size="10" text-anchor="middle">
<text x="376.7" y="513.5">0</text><text x="477" y="513.5">1</text><text x="577.3" y="513.5">2</text>
</g>

<!-- ================= Panel (e) ================= -->
<text class="serif" x="0" y="522" font-size="19">(e)</text>
<circle cx="52" cy="511" r="7.5" fill="url(#gZr)"/>
<circle cx="52" cy="537.7" r="7.5" fill="url(#gMo)"/>
<circle cx="52" cy="564.3" r="7.5" fill="url(#gFe)"/>
<circle cx="52" cy="590" r="7.5" fill="url(#gSb)"/>
<text class="serif" x="73" y="516" font-size="14">Zr</text>
<text class="serif" x="73" y="542.8" font-size="14">Mo</text>
<text class="serif" x="73" y="569.4" font-size="14">Fe</text>
<text class="serif" x="73" y="595" font-size="14">Sb</text>

<g stroke="#333" stroke-width="0.8" fill="none">
<path d="M130,572 L250,577 L250,752 L130,747 Z M160,562 L278,567 L278,740 L160,735 Z M130,572 L160,562 M250,577 L278,567 M250,752 L278,740 M130,747 L160,735"/>
</g>
<g opacity="0.6">
<circle cx="143" cy="608" r="11" fill="url(#gSb)"/><circle cx="173" cy="600" r="11" fill="url(#gSb)"/><circle cx="218" cy="650" r="11" fill="url(#gSb)"/>
<circle cx="177" cy="687" r="11" fill="url(#gSb)"/><circle cx="147" cy="697" r="11" fill="url(#gSb)"/><circle cx="222" cy="735" r="11" fill="url(#gSb)"/>
<circle cx="187" cy="602" r="8" fill="url(#gFe)"/><circle cx="190" cy="695" r="8" fill="url(#gFe)"/>
<circle cx="163" cy="735" r="11" fill="url(#gMo)"/>
</g>
<g stroke="#b462c8" stroke-width="3.5" stroke-linecap="round">
<path d="M157,613 L115,620 M157,613 L192,573 M157,613 L188,660 M157,613 L143,608"/>
<path d="M187,602 L220,562 M187,602 L173,600 M187,602 L218,650"/>
<path d="M230,660 L188,660 M230,660 L262,613 M230,660 L265,702 M230,660 L218,650"/>
<path d="M163,705 L117,708 M163,705 L192,745 M163,705 L177,687 M163,705 L188,660"/>
<path d="M190,695 L177,687 M190,695 L222,735 M190,695 L218,650"/>
<path d="M237,742 L192,745 M237,742 L265,702 M237,742 L263,788 M237,742 L222,735"/>
</g>
<path d="M132,745 L163,735" stroke="#333" stroke-width="1"/>
<g fill="url(#gSb)">
<circle cx="192" cy="573" r="11"/><circle cx="220" cy="562" r="11"/><circle cx="115" cy="620" r="11"/><circle cx="262" cy="613" r="11"/>
<circle cx="188" cy="660" r="11"/><circle cx="117" cy="708" r="11"/><circle cx="265" cy="702" r="11"/><circle cx="192" cy="745" r="11"/><circle cx="263" cy="788" r="11"/>
</g>
<g fill="url(#gFe)">
<circle cx="157" cy="613" r="8"/><circle cx="230" cy="660" r="8"/><circle cx="163" cy="705" r="8"/><circle cx="237" cy="742" r="8"/>
</g>
<g fill="url(#gZr)">
<circle cx="203" cy="610" r="13"/><circle cx="277" cy="652" r="13"/><circle cx="247" cy="663" r="13"/>
</g>
<g fill="url(#gMo)">
<circle cx="207" cy="700" r="11"/><circle cx="132" cy="745" r="11"/>
</g>

<!-- ================= Panel (f) ================= -->
<text class="serif" x="313" y="523" font-size="19">(f)</text>
<text class="serif" font-size="18" font-weight="bold" text-anchor="middle" transform="translate(344,647) rotate(-90)">Energy (eV)</text>
<g class="sans" font-size="11" text-anchor="end">
<text x="373" y="543">2.0</text><text x="373" y="570">1.5</text><text x="373" y="597">1.0</text><text x="373" y="624">0.5</text>
<text x="373" y="651">0.0</text><text x="373" y="678">−0.5</text><text x="373" y="705">−1.0</text><text x="373" y="732">−1.5</text><text x="373" y="759">−2.0</text>
</g>
<g clip-path="url(#clipF)">
<rect x="376.7" y="539" width="200.3" height="216" fill="#28389c"/>
<g transform="translate(0,647) scale(1,-54)">
<use href="#bandsFf" stroke="#4a90e0" stroke-width="1.4" stroke-opacity="0.4"/>
<use href="#bandsF" stroke="#3a7ad4" stroke-width="3" stroke-opacity="0.4"/>
<use href="#bandsF" stroke="#5cc0f0" stroke-width="1" stroke-opacity="0.85"/>
</g>
<g fill="#b8e470" opacity="0.75">
<ellipse cx="406.7" cy="688" rx="4" ry="2"/><ellipse cx="490" cy="688" rx="4" ry="2"/><ellipse cx="577" cy="688" rx="3" ry="2"/>
<ellipse cx="441" cy="579" rx="3" ry="1.5"/><ellipse cx="529" cy="666" rx="2" ry="1.5"/><ellipse cx="406.7" cy="668.5" rx="2" ry="1.5"/>
<ellipse cx="390" cy="720" rx="3" ry="1.5"/><ellipse cx="420" cy="730" rx="3" ry="1.5"/><ellipse cx="380" cy="651" rx="1.5" ry="2.5"/>
</g>
<g stroke="#e4e6f4" stroke-width="1.3" stroke-opacity="0.9">
<path d="M406.7,539 V755 M441,539 V755 M453.3,539 V755 M490,539 V755 M529,539 V755 M541.7,539 V755"/>
</g>
<path d="M376.7,647 H577" stroke="#fff" stroke-width="1" stroke-dasharray="1,1.6" opacity="0.85"/>
</g>
<rect x="376.7" y="539" width="200.3" height="216" fill="none" stroke="#8a8a8a" stroke-width="1"/>
<rect x="577" y="539" width="2" height="216" fill="#8a8a96"/>
<g clip-path="url(#clipFd)">
<g transform="translate(0,647) scale(1,-54)" stroke-width="1.3">
<polyline class="pl" stroke="#6a6a9a" points="579.5,-2.05 579.5,2.05"/>
<polyline class="pl" stroke="#2a5ab8" points="579,-0.2 581,-0.8 583,-0.85 580,-1.0 581,-1.5 583,-1.8 581,-2.0"/>
<polyline class="pl" stroke="#f4b81c" points="579,0.7 581,0.9 584,1.05 588,1.15 585,1.25 590,1.35 587,1.45 585,1.6 583,1.8 580,1.95"/>
<polyline class="pl" stroke="#f4b81c" points="579,-0.1 581,-0.5 582,-1.0 582,-1.4 584,-1.55 590,-1.65 600,-1.75 592,-1.82 588,-1.9 585,-2.0"/>
<polyline class="pl" stroke="#2aa860" points="579,0.6 582,0.82 585,0.99 589,1.1 592,1.18 588,1.25 594,1.33 595,1.46 599,1.58 595,1.67 590,1.76 585,1.85 580,1.95"/>
<polyline class="pl" stroke="#2aa860" points="579,-0.05 585,-0.33 592,-0.58 599,-0.76 605,-0.82 601,-0.9 604,-1.0 601,-1.1 605,-1.2 600,-1.32 592,-1.45 587,-1.54 585,-1.58 595,-1.63 612,-1.78 602,-1.85 598,-1.92 605,-2.0"/>
<polyline class="pl" stroke="#e02418" stroke-width="1.5" points="579,0.53 582,0.72 587,0.87 594,0.96 599,1.06 608,1.1 615,1.12 625,1.18 612,1.22 619,1.27 606,1.32 614,1.36 605,1.46 597,1.52 604,1.58 610,1.64 607,1.73 599,1.83 589,1.92 580,1.99"/>
<polyline class="pl" stroke="#e02418" stroke-width="1.5" points="579,-0.02 585,-0.15 599,-0.27 609,-0.4 615,-0.58 622,-0.76 640,-0.86 630,-0.92 636,-1.0 628,-1.14 630,-1.24 619,-1.38 605,-1.48 592,-1.54 588,-1.57 598,-1.63 612,-1.69 650,-1.78 635,-1.82 619,-1.88 625,-1.94 615,-2.0"/>
</g>
</g>
<path d="M579,618.3 H665" stroke="#8a2aa8" stroke-width="1.4" stroke-dasharray="6,2,1.5,2"/>
<path d="M579,647.3 H665" stroke="#111" stroke-width="1.5" stroke-dasharray="6,4"/>
<path d="M579,654 H665" stroke="#a8a8a8" stroke-width="1.2" stroke-dasharray="6,2,1.5,2"/>
<rect x="579" y="539" width="86" height="216" fill="none" stroke="#222" stroke-width="1"/>
<g class="serif" font-size="5.5" font-weight="bold">
<path d="M638,545.7 h15" stroke="#e02418" stroke-width="1.5"/><text x="654.5" y="547.6">Total</text>
<path d="M638,553.3 h15" stroke="#2a5ab8" stroke-width="1.5"/><text x="654.5" y="555.2">Zr</text>
<path d="M638,561 h15" stroke="#f4b81c" stroke-width="1.5"/><text x="654.5" y="562.9">Mo</text>
<path d="M638,568.3 h15" stroke="#2aa860" stroke-width="1.5"/><text x="654.5" y="570.2">Fe</text>
<path d="M638,576 h15" stroke="#6a6a9a" stroke-width="1.5"/><text x="654.5" y="577.9">Sb</text>
</g>
<circle cx="441" cy="627.7" r="9" fill="none" stroke="#c8386a" stroke-width="1.3"/>
<circle cx="380" cy="651.7" r="9" fill="none" stroke="#c8386a" stroke-width="1.3"/>
<rect x="391.7" y="633.3" width="34.3" height="10" fill="#fff"/>
<text class="serif" x="393" y="641.5" font-size="9.5"><tspan font-style="italic">N</tspan><tspan font-style="italic" font-size="6.5" dy="2">vL</tspan><tspan dy="-2"> = 8</tspan></text>
<rect x="450" y="635" width="33.3" height="10" fill="#fff"/>
<text class="serif" x="451.5" y="643.2" font-size="9.5"><tspan font-style="italic">N</tspan><tspan font-style="italic" font-size="6.5" dy="2">cX</tspan><tspan dy="-2"> = 6</tspan></text>
<g class="sans" font-size="11.5" text-anchor="middle">
<text x="376.7" y="771">L</text><text x="406.7" y="771" class="serif" font-size="12.5">Γ</text><text x="441" y="771">X</text><text x="453.3" y="771">K</text>
<text x="490" y="771" class="serif" font-size="12.5">Γ</text><text x="529.5" y="771">W</text><text x="542" y="771">Z</text><text x="577" y="771" class="serif" font-size="12.5">Γ</text>
</g>
<rect x="376.7" y="772.5" width="200.3" height="10" fill="url(#cbar)" stroke="#777" stroke-width="0.8"/>
<g class="sans" font-size="10" text-anchor="middle">
<text x="376.7" y="793.5">0</text><text x="577" y="793.5">1</text>
</g>
</svg>
</body></html>
